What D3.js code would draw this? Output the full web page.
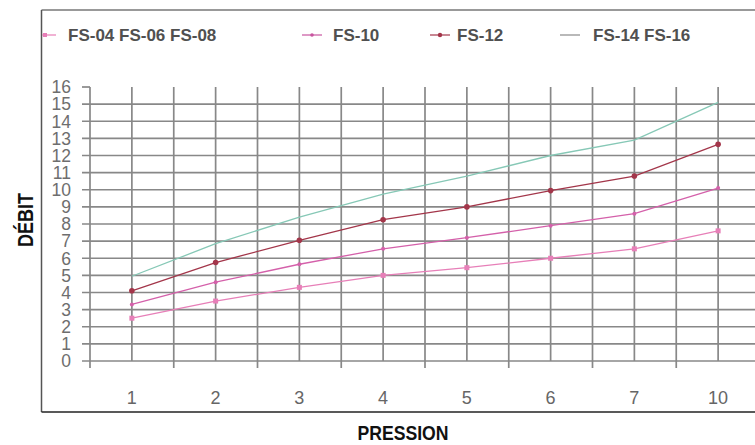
<!DOCTYPE html>
<html><head><meta charset="utf-8">
<script src="https://cdn.jsdelivr.net/npm/d3@7/dist/d3.min.js"></script>
<style>body{margin:0;background:#fff}svg{display:block}</style>
</head><body><svg id="c" width="755" height="445"></svg>
<script>
const categories = ["1","2","3","4","5","6","7","10"];
const yTicks = [0,1,2,3,4,5,6,7,8,9,10,11,12,13,14,15,16];
const seriesNames = ["FS-04 FS-06 FS-08","FS-10","FS-12","FS-14 FS-16"];
const s1 = [2.5,3.5,4.3,5.0,5.45,6.0,6.55,7.6];
const s2 = [3.3,4.6,5.65,6.55,7.2,7.9,8.6,10.1];
const s3 = [4.1,5.75,7.05,8.25,9.0,9.95,10.8,12.65];
const s4 = [4.95,6.85,8.4,9.75,10.8,12.0,12.9,15.1];
const colors = ["#e77fb8","#d460aa","#a3364a","#86c8b6"];
const legendColors = ["#e77fb8","#c8559f","#a3364a","#8a8a8a"];
const seriesData = [s1,s2,s3,s4];

const svg = d3.select("#c");
const x = d3.scaleBand().domain(categories).range([90,760]);
const y = d3.scaleLinear().domain([0,16]).range([361,87]);
const cx = c => x(c) + x.bandwidth()/2;
const grid = "#888";

// frame
svg.append("line").attr("x1",41.5).attr("x2",755).attr("y1",10).attr("y2",10).attr("stroke","#777").attr("stroke-width",1.5);
svg.append("line").attr("x1",41.5).attr("x2",41.5).attr("y1",10).attr("y2",412).attr("stroke","#555").attr("stroke-width",1.5);
svg.append("line").attr("x1",41.5).attr("x2",755).attr("y1",412).attr("y2",412).attr("stroke","#222").attr("stroke-width",1.5);

// horizontal grid
svg.selectAll(".hg").data(yTicks.filter(t=>t<16)).enter().append("line")
  .attr("x1",82).attr("x2",755).attr("y1",d=>y(d)).attr("y2",d=>y(d))
  .attr("stroke",grid).attr("stroke-width",1.7);
svg.append("line").attr("x1",82).attr("x2",90).attr("y1",y(16)).attr("y2",y(16)).attr("stroke",grid).attr("stroke-width",1.7);
// vertical grid: centers
svg.selectAll(".vc").data(categories).enter().append("line")
  .attr("x1",d=>cx(d)).attr("x2",d=>cx(d)).attr("y1",y(16)).attr("y2",y(0))
  .attr("stroke",grid).attr("stroke-width",1.7);
// boundaries (with outer ticks)
svg.selectAll(".vb").data(categories).enter().append("line")
  .attr("x1",d=>x(d)).attr("x2",d=>x(d)).attr("y1",y(16)).attr("y2",y(0)+7)
  .attr("stroke",grid).attr("stroke-width",1.7);

// y labels
svg.selectAll(".yl").data(yTicks).enter().append("text")
  .attr("x",71).attr("y",d=>y(d)).attr("dy","0.36em").attr("text-anchor","end")
  .attr("font-family","Liberation Sans, Arial, sans-serif").attr("font-size",17.5)
  .attr("fill","#6e6e6e").text(d=>d);
// x labels
svg.selectAll(".xl").data(categories).enter().append("text")
  .attr("x",d=>cx(d)).attr("y",404).attr("text-anchor","middle")
  .attr("font-family","Liberation Sans, Arial, sans-serif").attr("font-size",18)
  .attr("fill","#666").text(d=>d);

// lines
const line = d3.line().x((d,i)=>cx(categories[i])).y(d=>y(d));
seriesData.forEach((s,k)=>{
  svg.append("path").datum(s).attr("d",line).attr("fill","none")
    .attr("stroke",colors[k]).attr("stroke-width",1.3);
});
// markers
svg.selectAll(".m1").data(s1).enter().append("rect")
  .attr("x",(d,i)=>cx(categories[i])-2.5).attr("y",d=>y(d)-2.5).attr("width",5).attr("height",5).attr("fill",colors[0]);
svg.selectAll(".m2").data(s2).enter().append("circle")
  .attr("cx",(d,i)=>cx(categories[i])).attr("cy",d=>y(d)).attr("r",2).attr("fill",colors[1]);
svg.selectAll(".m3").data(s3).enter().append("circle")
  .attr("cx",(d,i)=>cx(categories[i])).attr("cy",d=>y(d)).attr("r",2.8).attr("fill",colors[2]);

// legend
const legX = [[42,56,68],[302,322,333],[430,450,457],[560,580,593]];
seriesNames.forEach((n,k)=>{
  const [a,b,t] = legX[k];
  svg.append("line").attr("x1",a).attr("x2",b).attr("y1",35).attr("y2",35).attr("stroke",legendColors[k]).attr("stroke-width",1.2);
  if(k===0) svg.append("rect").attr("x",43).attr("y",33).attr("width",4).attr("height",4).attr("fill",legendColors[0]);
  if(k===1) svg.append("circle").attr("cx",(a+b)/2).attr("cy",35).attr("r",1.8).attr("fill",legendColors[1]);
  if(k===2) svg.append("circle").attr("cx",(a+b)/2).attr("cy",35).attr("r",2.2).attr("fill",legendColors[2]);
  svg.append("text").attr("x",t).attr("y",41).attr("font-family","Liberation Sans Narrow, Arial Narrow, sans-serif")
    .attr("font-weight","bold").attr("font-size",17).attr("fill","#505050").text(n);
});

// axis titles
svg.append("text").attr("transform","translate(33,220) rotate(-90)").attr("text-anchor","middle")
  .attr("font-family","Liberation Sans Narrow, Arial Narrow, sans-serif").attr("font-weight","bold")
  .attr("font-size",22).attr("textLength",54).attr("lengthAdjust","spacingAndGlyphs").attr("fill","#111").text("DÉBIT");
svg.append("text").attr("x",403).attr("y",440).attr("text-anchor","middle")
  .attr("font-family","Liberation Sans Narrow, Arial Narrow, sans-serif").attr("font-weight","bold")
  .attr("font-size",21).attr("textLength",91).attr("lengthAdjust","spacingAndGlyphs").attr("fill","#111").text("PRESSION");
</script></body></html>
